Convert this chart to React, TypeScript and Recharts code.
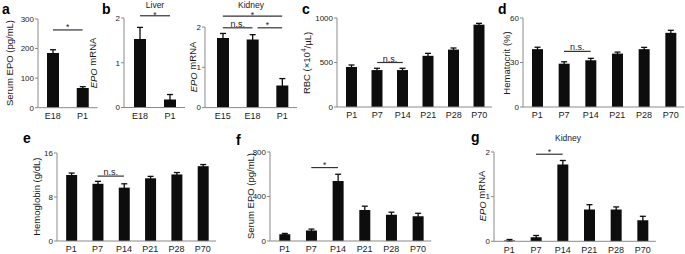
import React from 'react';
import { BarChart, Bar, XAxis, YAxis, ErrorBar, ReferenceLine } from 'recharts';

const FONT = '"Liberation Sans", Arial, Helvetica, sans-serif';

// ---- data ----
const embryoCats = ['E18', 'P1'];
const serumEpoPerinatal = [185, 67];
const serumEpoPerinatalErr = [11, 4];

const liverCats = ['E18', 'P1'];
const liverEpo = [1.53, 0.18];
const liverEpoErr = [0.26, 0.11];

const kidneyCats = ['E15', 'E18', 'P1'];
const kidneyEpoPerinatal = [1.73, 1.69, 0.55];
const kidneyEpoPerinatalErr = [0.11, 0.12, 0.17];

const postnatalDays = ['P1', 'P7', 'P14', 'P21', 'P28', 'P70'];
const rbc = [450, 415, 415, 575, 645, 925];
const rbcErr = [22, 20, 20, 28, 18, 15];
const hematocrit = [39, 29.2, 31.5, 36, 39, 50];
const hematocritErr = [1.3, 1.3, 1.3, 1, 1.2, 1.7];
const hemoglobin = [12, 10.4, 9.7, 11.4, 12.1, 13.6];
const hemoglobinErr = [0.35, 0.45, 0.7, 0.35, 0.35, 0.3];
const serumEpo = [60, 95, 540, 278, 237, 222];
const serumEpoErr = [8, 12, 60, 35, 22, 27];
const kidneyEpo = [0.02, 0.09, 1.72, 0.71, 0.71, 0.47];
const kidneyEpoErr = [0.02, 0.04, 0.09, 0.11, 0.06, 0.09];

type Sig = { from: string; to: string; y: number; text: string; trimL?: number; trimR?: number; off?: number };

type PanelProps = {
  cats: string[];
  vals: number[];
  errs: number[];
  x0: number;
  x1: number;
  yTop: number;
  yBot: number;
  padL: number;
  domain: [number, number];
  ticks: number[];
  barSize: number;
  sigs: Sig[];
};

const AXIS = '#8a8a8a';
const INK = '#1a1a1a';

function Panel(p: PanelProps) {
  const YW = 40, XH = 24, MT = 30, MR = 4;
  const left = p.x0 - YW;
  const top = p.yTop - MT;
  const width = p.x1 - p.x0 + YW + MR;
  const height = p.yBot - p.yTop + MT + XH;
  const data = p.cats.map((c, i) => ({ cat: c, value: p.vals[i], err: p.errs[i] }));
  const xTick = { fill: INK, fontSize: 9, fontFamily: FONT };
  const yTick = { fill: INK, fontSize: 8, fontFamily: FONT };
  return (
    <div style={{ position: 'absolute', left, top, width, height }}>
      <BarChart
        width={width}
        height={height}
        data={data}
        margin={{ top: MT, right: MR, bottom: 0, left: 0 }}
        barCategoryGap={0}
      >
        <XAxis
          dataKey="cat"
          height={XH}
          padding={{ left: p.padL, right: 0 }}
          tickLine={false}
          tickSize={3}
          tickMargin={2}
          stroke={AXIS}
          tick={xTick}
          interval={0}
        />
        <YAxis
          width={YW}
          domain={p.domain}
          ticks={p.ticks}
          tickSize={3}
          tickMargin={1}
          stroke={AXIS}
          tick={yTick}
          interval={0}
          allowDataOverflow
        />
        <Bar dataKey="value" fill="#0d0d0d" barSize={p.barSize} isAnimationActive={false}>
          <ErrorBar dataKey="err" width={3} stroke="#0d0d0d" strokeWidth={1.3} direction="y" isAnimationActive={false} />
        </Bar>
        {p.sigs.map((s, i) => {
          const isStar = s.text === '*';
          const off = s.off !== undefined ? s.off : isStar ? -0.5 : 1;
          return (
            <ReferenceLine
              key={i}
              segment={[{ x: s.from, y: s.y }, { x: s.to, y: s.y }]}
              ifOverflow="visible"
              stroke="#333"
              strokeWidth={1.2}
              shape={(lp: any) => (
                <line
                  x1={lp.x1 + (s.trimL || 0)}
                  y1={lp.y1}
                  x2={lp.x2 - (s.trimR || 0)}
                  y2={lp.y2}
                  stroke="#333"
                  strokeWidth={1.2}
                />
              )}
              label={{
                value: s.text,
                position: 'top',
                offset: off,
                fontSize: isStar ? 8.5 : 9,
                fill: INK,
                fontFamily: FONT,
              }}
            />
          );
        })}
      </BarChart>
    </div>
  );
}

function YLab({ x, y, children }: { x: number; y: number; children: React.ReactNode }) {
  return (
    <text
      transform={`translate(${x},${y}) rotate(-90)`}
      textAnchor="middle"
      dominantBaseline="central"
      fontSize={9.5}
      fill={INK}
      fontFamily={FONT}
    >
      {children}
    </text>
  );
}

function Letter({ x, y, t }: { x: number; y: number; t: string }) {
  return (
    <text x={x} y={y} fontSize={14} fontWeight="bold" fill="#000" fontFamily={FONT}>
      {t}
    </text>
  );
}

function Title({ x, y, t }: { x: number; y: number; t: string }) {
  return (
    <text x={x} y={y} textAnchor="middle" fontSize={8.5} fill={INK} fontFamily={FONT}>
      {t}
    </text>
  );
}

export default function App() {
  return (
    <div
      style={{
        position: 'absolute',
        left: 0,
        top: 0,
        width: 685,
        height: 254,
        overflow: 'hidden',
        background: '#fff',
        fontFamily: FONT,
      }}
    >
      <Panel
        cats={embryoCats} vals={serumEpoPerinatal} errs={serumEpoPerinatalErr}
        x0={37.5} x1={97} yTop={19} yBot={107.7} padL={0}
        domain={[0, 300]} ticks={[0, 100, 200, 300]} barSize={12}
        sigs={[{ from: 'E18', to: 'P1', y: 263, text: '*' }]}
      />
      <Panel
        cats={liverCats} vals={liverEpo} errs={liverEpoErr}
        x0={124} x1={185} yTop={18} yBot={107.5} padL={1}
        domain={[0, 2]} ticks={[0, 1, 2]} barSize={12}
        sigs={[{ from: 'E18', to: 'P1', y: 2.05, text: '*', off: -1.8 }]}
      />
      <Panel
        cats={kidneyCats} vals={kidneyEpoPerinatal} errs={kidneyEpoPerinatalErr}
        x0={205} x1={297} yTop={26.7} yBot={107.3} padL={3}
        domain={[0, 2]} ticks={[0, 1, 2]} barSize={12}
        sigs={[
          { from: 'E15', to: 'P1', y: 2.27, text: '*', off: -1.8 },
          { from: 'E15', to: 'E18', y: 1.98, text: 'n.s.' },
          { from: 'E18', to: 'P1', y: 1.98, text: '*', trimL: 5 },
        ]}
      />
      <Panel
        cats={postnatalDays} vals={rbc} errs={rbcErr}
        x0={337} x1={492} yTop={18.3} yBot={107.3} padL={2}
        domain={[0, 1000]} ticks={[0, 500, 1000]} barSize={11}
        sigs={[{ from: 'P7', to: 'P14', y: 500, text: 'n.s.' }]}
      />
      <Panel
        cats={postnatalDays} vals={hematocrit} errs={hematocritErr}
        x0={523} x1={684} yTop={18.3} yBot={107.3} padL={1}
        domain={[0, 60]} ticks={[0, 30, 60]} barSize={11}
        sigs={[{ from: 'P7', to: 'P14', y: 37.5, text: 'n.s.' }]}
      />
      <Panel
        cats={postnatalDays} vals={hemoglobin} errs={hemoglobinErr}
        x0={56.7} x1={215.7} yTop={152.7} yBot={240.7} padL={1.15}
        domain={[0, 16]} ticks={[0, 8, 16]} barSize={11}
        sigs={[{ from: 'P7', to: 'P14', y: 11.8, text: 'n.s.' }]}
      />
      <Panel
        cats={postnatalDays} vals={serumEpo} errs={serumEpoErr}
        x0={270} x1={431.3} yTop={151.7} yBot={240.7} padL={1.3}
        domain={[0, 800]} ticks={[0, 400, 800]} barSize={11}
        sigs={[{ from: 'P7', to: 'P14', y: 660, text: '*' }]}
      />
      <Panel
        cats={postnatalDays} vals={kidneyEpo} errs={kidneyEpoErr}
        x0={494.3} x1={656.3} yTop={151.7} yBot={241} padL={2}
        domain={[0, 2]} ticks={[0, 1, 2]} barSize={11}
        sigs={[{ from: 'P7', to: 'P14', y: 1.95, text: '*' }]}
      />
      <svg
        width={685}
        height={254}
        style={{ position: 'absolute', left: 0, top: 0, pointerEvents: 'none' }}
      >
        <Letter x={2} y={14} t="a" />
        <Letter x={102} y={14} t="b" />
        <Letter x={302} y={14} t="c" />
        <Letter x={498} y={14} t="d" />
        <Letter x={23} y={143} t="e" />
        <Letter x={236} y={145} t="f" />
        <Letter x={471} y={142} t="g" />

        <Title x={155} y={7.8} t="Liver" />
        <Title x={251} y={7.8} t="Kidney" />
        <Title x={568} y={140.5} t="Kidney" />

        <YLab x={9} y={63}>Serum EPO (pg/mL)</YLab>
        <YLab x={92.5} y={63}>
          <tspan fontStyle="italic">EPO</tspan> mRNA
        </YLab>
        <YLab x={192.5} y={67}>
          <tspan fontStyle="italic">EPO</tspan> mRNA
        </YLab>
        <YLab x={306.7} y={63}>
          RBC (×10<tspan fontSize={6.5} dy={-3.5}>4</tspan>
          <tspan dy={3.5}>/µL)</tspan>
        </YLab>
        <YLab x={506} y={63}>Hematocrit (%)</YLab>
        <YLab x={36} y={196.7}>Hemoglobin (g/dL)</YLab>
        <YLab x={250} y={196}>Serum EPO (pg/mL)</YLab>
        <YLab x={481.5} y={196}>
          <tspan fontStyle="italic">EPO</tspan> mRNA
        </YLab>
      </svg>
    </div>
  );
}
